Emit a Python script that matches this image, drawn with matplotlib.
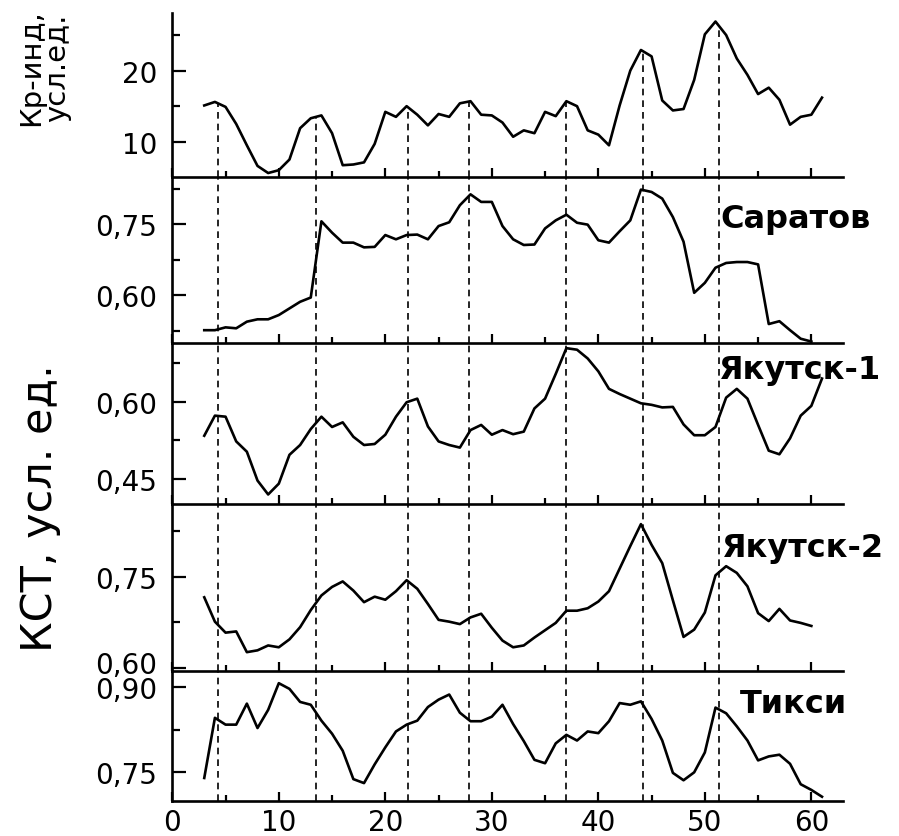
import numpy as np
import matplotlib
matplotlib.use("Agg")
import matplotlib.pyplot as plt
import matplotlib.transforms as mtransforms
from matplotlib.ticker import MultipleLocator

# Data (day number along x)
days = list(range(3, 62))

kp = [15.1, 15.6, 14.9, 12.5, 9.5, 6.6, 5.6, 6.0, 7.5, 11.9,
      13.3, 13.7, 11.2, 6.7, 6.8, 7.1, 9.7, 14.2, 13.5, 15.0,
      13.8, 12.3, 13.9, 13.5, 15.4, 15.7, 13.8, 13.7, 12.7, 10.7,
      11.6, 11.2, 14.2, 13.6, 15.7, 15.0, 11.6, 11.0, 9.5, 15.1,
      20.0, 22.9, 22.0, 15.8, 14.4, 14.6, 18.7, 25.1, 26.9, 25.0,
      21.7, 19.4, 16.7, 17.6, 15.9, 12.4, 13.5, 13.8, 16.2]

saratov = [0.526, 0.526, 0.532, 0.530, 0.544, 0.549, 0.549, 0.558, 0.572, 0.586,
           0.595, 0.756, 0.732, 0.711, 0.711, 0.701, 0.702, 0.727, 0.718, 0.727,
           0.728, 0.718, 0.746, 0.754, 0.790, 0.813, 0.797, 0.797, 0.746, 0.718,
           0.706, 0.707, 0.741, 0.758, 0.770, 0.753, 0.749, 0.716, 0.711, 0.735,
           0.758, 0.823, 0.818, 0.804, 0.765, 0.713, 0.605, 0.626, 0.658, 0.668,
           0.670, 0.670, 0.665, 0.539, 0.545, 0.526, 0.508, 0.502]

yakutsk1 = [0.534, 0.573, 0.571, 0.523, 0.503, 0.447, 0.420, 0.441, 0.497, 0.516,
            0.547, 0.571, 0.551, 0.560, 0.532, 0.516, 0.518, 0.536, 0.571, 0.599,
            0.606, 0.552, 0.523, 0.516, 0.511, 0.545, 0.555, 0.536, 0.545, 0.537,
            0.542, 0.587, 0.606, 0.654, 0.704, 0.701, 0.684, 0.659, 0.625, 0.615,
            0.606, 0.597, 0.594, 0.589, 0.590, 0.556, 0.535, 0.535, 0.551, 0.608,
            0.625, 0.606, 0.555, 0.505, 0.498, 0.529, 0.573, 0.592, 0.645]

yakutsk2 = [0.716, 0.676, 0.658, 0.660, 0.626, 0.629, 0.637, 0.634, 0.647, 0.667,
            0.695, 0.719, 0.733, 0.742, 0.727, 0.708, 0.717, 0.712, 0.726, 0.744,
            0.730, 0.705, 0.679, 0.676, 0.672, 0.683, 0.689, 0.666, 0.645, 0.634,
            0.637, 0.650, 0.662, 0.674, 0.694, 0.694, 0.698, 0.709, 0.726, 0.763,
            0.800, 0.836, 0.802, 0.772, 0.711, 0.651, 0.663, 0.691, 0.752, 0.767,
            0.756, 0.734, 0.690, 0.677, 0.697, 0.678, 0.674, 0.669]

tiksi = [0.740, 0.846, 0.834, 0.834, 0.871, 0.828, 0.860, 0.907, 0.897, 0.874,
         0.869, 0.841, 0.818, 0.788, 0.738, 0.731, 0.764, 0.794, 0.822, 0.834,
         0.841, 0.865, 0.878, 0.887, 0.855, 0.840, 0.840, 0.848, 0.869, 0.835,
         0.805, 0.772, 0.766, 0.801, 0.816, 0.806, 0.822, 0.819, 0.840, 0.872,
         0.869, 0.875, 0.844, 0.806, 0.749, 0.736, 0.750, 0.785, 0.864, 0.854,
         0.831, 0.806, 0.771, 0.778, 0.781, 0.765, 0.729, 0.719, 0.707]

# days marked by dashed lines (Kp maxima)
dash_days = [4.3, 13.5, 22.1, 27.9, 37.0, 44.2, 51.3]

stations = ["Саратов", "Якутск-1", "Якутск-2", "Тикси"]
station_series = [saratov, yakutsk1, yakutsk2, tiksi]

# Figure and panel layout (pixel-matched)
W, H = 899, 837
fig = plt.figure(figsize=(W / 100, H / 100), dpi=100)

x0 = 172.3 / W
wd = (843.3 - 172.3) / W
edges = [14, 178.3, 343.5, 505, 671.7, 801.7]

axes = []
for i in range(5):
    top, bot = edges[i], edges[i + 1]
    ax = fig.add_axes([x0, 1 - bot / H, wd, (bot - top) / H])
    axes.append(ax)

# y-axis setup for each panel: limits, labelled ticks, minor ticks
ylims = [(5, 28.1), (0.500, 0.849), (0.4015, 0.715), (0.5956, 0.869), (0.700, 0.929)]
yticks = [[10, 20], [0.60, 0.75], [0.45, 0.60], [0.60, 0.75], [0.75, 0.90]]
yminor = [[15, 25], [0.525, 0.675, 0.825], [0.525, 0.675], [0.675, 0.825], [0.825]]

tick_font = dict(family="DejaVu Sans", size=20)
dash_style = (0, (4.0, 3.0))

for i, ax in enumerate(axes):
    ax.set_xlim(0, 63)
    ax.set_ylim(*ylims[i])
    ax.spines["top"].set_visible(False)
    ax.spines["right"].set_visible(False)
    ax.spines["left"].set_linewidth(1.9)
    ax.spines["bottom"].set_linewidth(1.9)
    ax.patch.set_alpha(0)

    ax.set_yticks(yticks[i])
    if i == 0:
        ax.set_yticklabels([str(v) for v in yticks[i]], **tick_font)
    else:
        ax.set_yticklabels([f"{v:.2f}".replace(".", ",") for v in yticks[i]], **tick_font)
    ax.set_yticks(yminor[i], minor=True)

    ax.xaxis.set_major_locator(MultipleLocator(10))
    ax.xaxis.set_minor_locator(MultipleLocator(5))
    ax.tick_params(axis="y", which="major", direction="in", length=10, width=1.6, pad=11)
    ax.tick_params(axis="y", which="minor", direction="in", length=6, width=1.6)
    ax.tick_params(axis="x", which="major", direction="in", length=6.5, width=1.6, pad=5)
    ax.tick_params(axis="x", which="minor", direction="in", length=4.5, width=1.6)
    if i < 4:
        ax.tick_params(axis="x", labelbottom=False)
    else:
        ax.set_xticks([0, 10, 20, 30, 40, 50, 60])
        ax.set_xticklabels([str(v) for v in [0, 10, 20, 30, 40, 50, 60]], **tick_font)

# the "0,60" of the Якутск-2 panel sits a little higher than its tick
lab = axes[3].get_yticklabels()[0]
lab.set_transform(lab.get_transform() +
                  mtransforms.ScaledTranslation(0, 6 / 100, fig.dpi_scale_trans))

# Kp panel
axes[0].plot(days, kp, color="black", lw=1.9)
kp_at_dash = np.interp(dash_days, days, kp)
axes[0].vlines(dash_days, 5, kp_at_dash, colors="black", lw=1.2, linestyles=dash_style)

# station panels
for ax, series in zip(axes[1:], station_series):
    ax.plot(days[:len(series)], series, color="black", lw=1.9)
    for d in dash_days:
        ax.axvline(d, color="black", lw=1.2, linestyle=dash_style)

# station names
name_pos = [(51.5, 0.763), (51.3, 0.662), (51.6, 0.798), (53.3, 0.871)]
for ax, name, (tx, ty) in zip(axes[1:], stations, name_pos):
    ax.text(tx, ty, name, fontsize=23, fontweight="bold", family="DejaVu Sans",
            ha="left", va="center")

# axis titles
fig.text(44 / W, 1 - 68 / H, "Кр-инд,\nусл.ед.", rotation=90, ha="center", va="center",
         fontsize=21, family="DejaVu Sans", linespacing=0.9, multialignment="center")
fig.text(40 / W, 1 - 508 / H, "КСТ, усл. ед.", rotation=90, ha="center", va="center",
         fontsize=31, family="DejaVu Sans")

fig.savefig("out.png", dpi=100)
